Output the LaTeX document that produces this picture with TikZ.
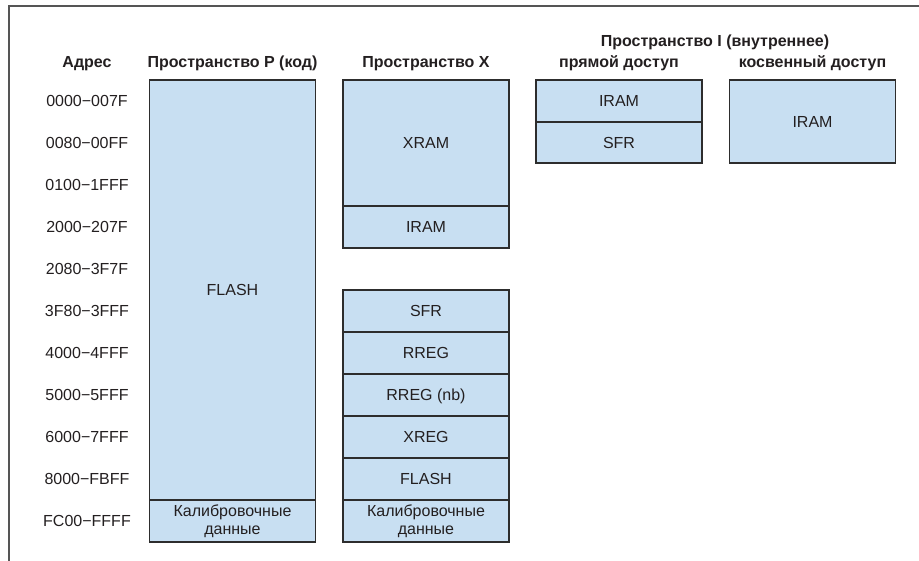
\documentclass[tikz,border=0pt]{standalone}
\usepackage{fontspec}
\setmainfont{Liberation Sans}
\usepackage{tikz}
\usetikzlibrary{positioning}
\definecolor{cellblue}{RGB}{200, 223, 242}
\definecolor{linegray}{RGB}{45, 45, 45}
\definecolor{framegray}{RGB}{85, 85, 85}
\definecolor{textgray}{RGB}{35, 31, 32}

\begin{document}
\begin{tikzpicture}[
    x=1pt, y=-1pt,
    every node/.style={text=textgray},
    memnode/.style={draw=linegray, line width=1.2pt, rectangle, fill=cellblue,
                    minimum width=166pt, outer sep=0pt, inner sep=0pt,
                    font=\fontsize{16}{18}\selectfont, align=center},
    cellnode/.style={memnode, minimum height=42pt,
                     text height=11.5pt, text depth=0pt},
    calnode/.style={memnode, minimum height=42pt},
    hdrnode/.style={font=\fontsize{16}{18}\selectfont\bfseries,
                    anchor=base, inner sep=0pt},
    addrnode/.style={font=\fontsize{16}{18}\selectfont, inner sep=0pt,
                     text height=11.5pt, text depth=0pt},
]
    \useasboundingbox (0,0) rectangle (919,561);
    \draw[framegray, line width=1.4pt] (9,561) -- (9,6) -- (919,6);

    \node[hdrnode] (hA) at (87,68) {Адрес};
    \node[hdrnode] (hP) at (232.5,68) {Пространство P (код)};
    \node[hdrnode] (hX) at (426,68) {Пространство X};
    \node[hdrnode] (hI) at (715,47) {Пространство I (внутреннее)};
    \node[hdrnode] (hD) at (619,68) {прямой доступ};
    \node[hdrnode] (hK) at (812.5,68) {косвенный доступ};

    \foreach \a [count=\i] in {0000−007F, 0080−00FF, 0100−1FFF, 2000−207F,
        2080−3F7F, 3F80−3FFF, 4000−4FFF, 5000−5FFF, 6000−7FFF, 8000−FBFF,
        FC00−FFFF}
        \node[addrnode] (a\i) at (87,59+42*\i) {\a};

    \node[cellnode, minimum height=420pt, anchor=north] (pflash) at (232.5,80) {FLASH};
    \node[calnode, below=0pt of pflash] (pcal) {Калибровочные\\данные};

    \node[cellnode, minimum height=126pt, anchor=north] (xram) at (426,80) {XRAM};
    \node[cellnode, below=0pt of xram] (xiram) {IRAM};
    \node[cellnode, anchor=north] (xsfr) at (426,290) {SFR};
    \node[cellnode, below=0pt of xsfr] (xrreg) {RREG};
    \node[cellnode, below=0pt of xrreg] (xrregnb) {RREG (nb)};
    \node[cellnode, below=0pt of xrregnb] (xxreg) {XREG};
    \node[cellnode, below=0pt of xxreg] (xflash) {FLASH};
    \node[calnode, below=0pt of xflash] (xcal) {Калибровочные\\данные};

    \node[cellnode, anchor=north] (diram) at (619,80) {IRAM};
    \node[cellnode, minimum height=41pt, below=0pt of diram] (dsfr) {SFR};

    \node[cellnode, minimum height=83pt, anchor=north] (kiram) at (812.5,80) {IRAM};
\end{tikzpicture}
\end{document}
